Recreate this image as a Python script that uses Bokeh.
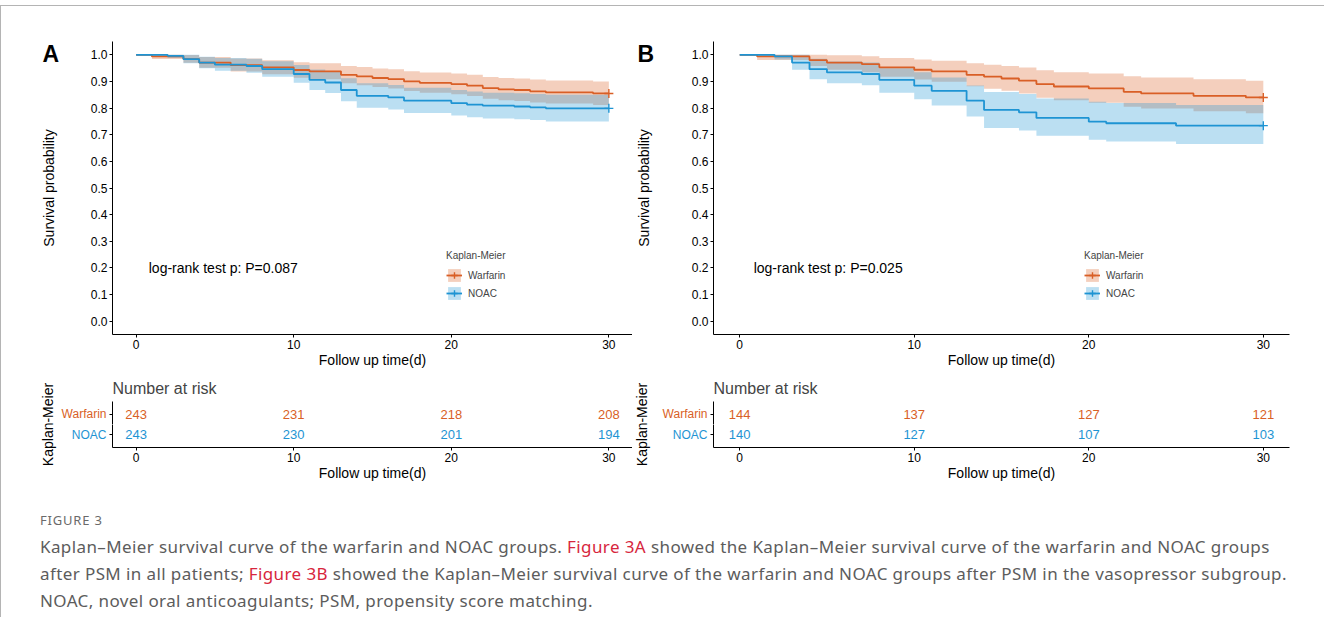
import math
from bokeh.plotting import figure
from bokeh.models import Range1d, FixedTicker, Legend, LegendItem, Div
from bokeh.layouts import column, row
from bokeh.embed import file_html
from bokeh.resources import INLINE
from bokeh.core.properties import value

FONT = "Liberation Sans"
ORANGE = "#D95F26"
BLUE = "#1E94D3"

time_ticks = [0, 10, 20, 30]
surv_ticks = [0.0, 0.1, 0.2, 0.3, 0.4, 0.5, 0.6, 0.7, 0.8, 0.9, 1.0]
surv_tick_labels = ["0.0", "0.1", "0.2", "0.3", "0.4", "0.5", "0.6", "0.7", "0.8", "0.9", "1.0"]
groups = ["Warfarin", "NOAC"]

# ---------------- Panel A (all patients after PSM) ----------------
a_warf_t = [0, 1, 3, 4, 6, 8, 10, 11, 13, 14, 15, 16, 17, 18, 20, 21, 22, 23, 24, 25, 26, 29, 30]
a_warf_s = [1.0, 0.994, 0.984, 0.971, 0.961, 0.953, 0.943, 0.938, 0.925, 0.919, 0.913, 0.909, 0.900,
            0.895, 0.890, 0.884, 0.875, 0.870, 0.868, 0.863, 0.859, 0.855, 0.855]
a_warf_hi = [1.0, 1.0, 0.999, 0.992, 0.986, 0.980, 0.972, 0.968, 0.958, 0.954, 0.949, 0.946, 0.938,
             0.934, 0.930, 0.925, 0.917, 0.913, 0.911, 0.907, 0.904, 0.900, 0.900]
a_warf_lo = [1.0, 0.984, 0.970, 0.951, 0.937, 0.927, 0.914, 0.908, 0.893, 0.886, 0.879, 0.874, 0.864,
             0.858, 0.852, 0.845, 0.835, 0.829, 0.827, 0.821, 0.817, 0.812, 0.812]

a_noac_t = [0, 2, 3, 4, 5, 7, 8, 10, 11, 12, 13, 14, 16, 17, 20, 21, 22, 24, 25, 26, 30]
a_noac_s = [1.0, 0.996, 0.984, 0.971, 0.963, 0.958, 0.946, 0.928, 0.906, 0.896, 0.868, 0.846, 0.840,
            0.828, 0.819, 0.813, 0.809, 0.806, 0.803, 0.799, 0.799]
a_noac_hi = [1.0, 1.0, 1.0, 0.993, 0.988, 0.985, 0.976, 0.962, 0.945, 0.936, 0.912, 0.893, 0.887,
             0.876, 0.868, 0.862, 0.858, 0.856, 0.853, 0.850, 0.850]
a_noac_lo = [1.0, 0.988, 0.968, 0.950, 0.940, 0.933, 0.918, 0.895, 0.868, 0.857, 0.826, 0.801, 0.795,
             0.782, 0.772, 0.766, 0.761, 0.758, 0.755, 0.750, 0.750]

a_risk_warf = [243, 231, 218, 208]
a_risk_noac = [243, 230, 201, 194]
a_pval = "log-rank test p: P=0.087"

# ---------------- Panel B (vasopressor subgroup after PSM) ----------------
b_warf_t = [0, 1, 4, 5, 7, 8, 10, 11, 13, 14, 15, 16, 17, 18, 20, 22, 23, 26, 29, 30]
b_warf_s = [1.0, 0.994, 0.980, 0.971, 0.965, 0.953, 0.944, 0.938, 0.925, 0.918, 0.911, 0.903, 0.890,
            0.881, 0.874, 0.861, 0.855, 0.846, 0.840, 0.840]
b_warf_hi = [1.0, 1.0, 1.0, 0.998, 0.995, 0.988, 0.982, 0.978, 0.968, 0.963, 0.958, 0.952, 0.942,
             0.935, 0.930, 0.920, 0.915, 0.908, 0.903, 0.903]
b_warf_lo = [1.0, 0.981, 0.958, 0.944, 0.935, 0.918, 0.907, 0.899, 0.882, 0.873, 0.865, 0.855, 0.839,
             0.829, 0.820, 0.805, 0.798, 0.788, 0.781, 0.781]

b_noac_t = [0, 2, 3, 4, 5, 7, 8, 10, 11, 13, 14, 16, 17, 20, 21, 25, 30]
b_noac_s = [1.0, 0.994, 0.971, 0.946, 0.934, 0.928, 0.906, 0.884, 0.865, 0.828, 0.793, 0.784, 0.763,
            0.749, 0.743, 0.734, 0.734]
b_noac_hi = [1.0, 1.0, 1.0, 0.985, 0.975, 0.971, 0.950, 0.935, 0.915, 0.885, 0.860, 0.853, 0.836,
             0.824, 0.819, 0.812, 0.812]
b_noac_lo = [1.0, 0.982, 0.944, 0.908, 0.893, 0.886, 0.858, 0.833, 0.810, 0.768, 0.725, 0.716, 0.696,
             0.681, 0.675, 0.665, 0.665]

b_risk_warf = [144, 137, 127, 121]
b_risk_noac = [140, 127, 107, 103]
b_pval = "log-rank test p: P=0.025"

X0, X1 = -1.5, 31.5
TOP_H = 371                       # height of the survival-curve row
TOP_B, FRAME_H = 41, 293          # top border and frame height of the curve plots
BOT_B = TOP_H - TOP_B - FRAME_H   # bottom border of the curve plots
ROW1_H, ROW2_H = 53, 66           # heights of the two risk-table rows


def base_axes(p):
    p.xgrid.visible = False
    p.ygrid.visible = False
    p.outline_line_color = None
    p.background_fill_color = "white"
    p.border_fill_color = "white"
    for ax in list(p.xaxis) + list(p.yaxis):
        ax.axis_line_color = "black"
        ax.axis_line_width = 1
        ax.major_tick_line_color = "black"
        ax.major_tick_line_width = 1
        ax.major_tick_out = 3
        ax.major_tick_in = 0
        ax.minor_tick_line_color = None
        ax.major_label_text_font = FONT
        ax.major_label_text_font_size = "12px"
        ax.major_label_text_color = "black"
        ax.major_label_standoff = 2
        ax.axis_label_text_font = FONT
        ax.axis_label_text_font_size = "14px"
        ax.axis_label_text_font_style = "normal"
        ax.axis_label_text_color = "black"
        ax.axis_label_standoff = 0
    for ax in p.xaxis:
        ax.ticker = FixedTicker(ticks=time_ticks)
        ax.axis_label = "Follow up time(d)"


def gutter(width, height, border_top, border_bottom, texts):
    """Narrow strip left of an axis that holds the panel letter / rotated titles.
    Text positions are given in pixels from the top of the strip."""
    fh = height - border_top - border_bottom
    g = figure(width=width, height=height, x_range=Range1d(0, width), y_range=Range1d(0, fh),
               min_border_left=0, min_border_right=0,
               min_border_top=border_top, min_border_bottom=border_bottom,
               x_axis_location=None, y_axis_location=None, title=None,
               output_backend="svg", toolbar_location=None)
    g.outline_line_color = None
    g.background_fill_color = "white"
    g.border_fill_color = "white"
    g.grid.visible = False
    for txt, x, y_from_top, size, style, rot, align in texts:
        g.text(x=[x], y=[height - border_bottom - y_from_top], text=[txt], angle=rot,
               text_font=value(FONT), text_font_size=size, text_font_style=style,
               text_align=align, text_baseline="middle", text_color="black")
    return g


def km_figure(curves, pval, border_left, frame_w, border_right, legend_dx):
    p = figure(width=border_left + frame_w + border_right, height=TOP_H,
               x_range=Range1d(X0, X1), y_range=Range1d(-0.05, 1.05),
               min_border_left=border_left, min_border_right=border_right,
               min_border_top=TOP_B, min_border_bottom=BOT_B, title=None,
               output_backend="svg", toolbar_location=None)
    base_axes(p)
    p.yaxis.ticker = FixedTicker(ticks=surv_ticks)
    p.yaxis.major_label_overrides = {t: l for t, l in zip(surv_ticks, surv_tick_labels)}

    bands = []
    for name, color, t, s, lo, hi in curves:
        bands.append(p.varea_step(x=t, y1=lo, y2=hi, step_mode="after",
                                  fill_color=color, fill_alpha=0.3))
    items = []
    for (name, color, t, s, lo, hi), b in zip(curves, bands):
        ln = p.step(x=t, y=s, mode="after", line_color=color, line_width=1.8)
        cr = p.scatter(x=[t[-1]], y=[s[-1]], marker="cross", size=9,
                       line_color=color, line_width=1.4)
        items.append(LegendItem(label=name, renderers=[b, ln, cr]))

    p.text(x=[0.8], y=[0.2], text=[pval], text_font=value(FONT), text_font_size="14px",
           text_align="left", text_baseline="middle", text_color="black")

    leg = Legend(items=items, location=(legend_dx, 33), title="Kaplan-Meier",
                 title_text_font=FONT, title_text_font_size="10px", title_text_font_style="normal",
                 label_text_font=FONT, label_text_font_size="10px",
                 glyph_width=16, glyph_height=16, label_height=16, spacing=2,
                 padding=0, margin=0, label_standoff=6, title_standoff=6,
                 border_line_alpha=0, background_fill_alpha=0)
    p.add_layout(leg)
    return p


def risk_row(counts, tick, label, color, border_left, frame_w, border_right, first):
    common = dict(width=border_left + frame_w + border_right,
                  x_range=Range1d(X0, X1),
                  min_border_left=border_left, min_border_right=border_right,
                  output_backend="svg", toolbar_location=None)
    if first:
        p = figure(height=ROW1_H, y_range=Range1d(1.5, 2.6), min_border_top=ROW1_H - 23,
                   min_border_bottom=0, x_axis_location=None, **common)
    else:
        p = figure(height=ROW2_H, y_range=Range1d(0.4, 1.5), min_border_top=0,
                   min_border_bottom=ROW2_H - 23, title=None, **common)
    base_axes(p)
    if first:
        p.title.text = "Number at risk"
        p.title.text_font = FONT
        p.title.text_font_size = "16px"
        p.title.text_font_style = "normal"
        p.title.align = "left"
        p.title.offset = 0
        p.title.standoff = 10
    p.yaxis.ticker = FixedTicker(ticks=[tick])
    p.yaxis.major_label_overrides = {tick: label}
    p.yaxis.major_label_text_color = color
    p.yaxis.major_label_standoff = 3
    p.text(x=time_ticks, y=[tick] * len(time_ticks), text=[str(n) for n in counts],
           text_font=value(FONT), text_font_size="13px", text_align="center",
           text_baseline="middle", text_color=color)
    return p


curves_a = [("Warfarin", ORANGE, a_warf_t, a_warf_s, a_warf_lo, a_warf_hi),
            ("NOAC", BLUE, a_noac_t, a_noac_s, a_noac_lo, a_noac_hi)]
curves_b = [("Warfarin", ORANGE, b_warf_t, b_warf_s, b_warf_lo, b_warf_hi),
            ("NOAC", BLUE, b_noac_t, b_noac_s, b_noac_lo, b_noac_hi)]

# ---- survival curves row: gutter A | plot A | gutter B | plot B ----
YMID = TOP_B + FRAME_H / 2.0
ga = gutter(80, TOP_H, TOP_B, BOT_B,
            [("A", 42, 53, "23px", "bold", 0, "left"),
             ("Survival probability", 48, YMID, "14px", "normal", math.pi / 2, "center")])
pa = km_figure(curves_a, a_pval, 32, 520, 0, 334)
gb = gutter(28, TOP_H, TOP_B, BOT_B,
            [("B", 5, 53, "23px", "bold", 0, "left"),
             ("Survival probability", 11, YMID, "14px", "normal", math.pi / 2, "center")])
pb = km_figure(curves_b, b_pval, 53, 576, 37, 371)

# ---- risk table row ----
TAB_H = ROW1_H + ROW2_H
KM_Y = ROW1_H  # vertical centre of the two-row table, measured from the strip top
gta = gutter(57, TAB_H, 0, 0, [("Kaplan-Meier", 47, KM_Y, "14px", "normal", math.pi / 2, "center")])
ta1 = risk_row(a_risk_warf, 2, groups[0], ORANGE, 55, 520, 0, True)
ta2 = risk_row(a_risk_noac, 1, groups[1], BLUE, 55, 520, 0, False)
gtb = gutter(20, TAB_H, 0, 0, [("Kaplan-Meier", 9, KM_Y, "14px", "normal", math.pi / 2, "center")])
tb1 = risk_row(b_risk_warf, 2, groups[0], ORANGE, 61, 576, 37, True)
tb2 = risk_row(b_risk_noac, 1, groups[1], BLUE, 61, 576, 37, False)

RED = "#D7263D"
caption_html = (
    '<div style="position:relative;width:1326px;height:130px;font-family:\'Noto Sans\',sans-serif;color:#5c5c5c;">'
    # thin frame of the figure box (top and left edges)
    '<div style="position:absolute;left:-5px;top:-490px;width:1324px;height:612px;'
    'border-top:1px solid #b4b4b4;border-left:1px solid #b4b4b4;pointer-events:none;"></div>'
    '<div style="position:absolute;left:35px;top:17px;font-size:13px;letter-spacing:0.8px;line-height:16px;color:#6a6a6a;">FIGURE 3</div>'
    '<div style="position:absolute;left:35px;top:38px;font-size:17px;letter-spacing:0.4px;line-height:27px;white-space:nowrap;">'
    'Kaplan\u2013Meier survival curve of the warfarin and NOAC groups. '
    '<span style="color:' + RED + ';">Figure 3A</span> showed the Kaplan\u2013Meier survival curve of the warfarin and NOAC groups<br>'
    'after PSM in all patients; <span style="color:' + RED + ';">Figure 3B</span> showed the Kaplan\u2013Meier survival curve '
    'of the warfarin and NOAC groups after PSM in the vasopressor subgroup.<br>'
    'NOAC, novel oral anticoagulants; PSM, propensity score matching.'
    '</div></div>'
)
caption = Div(text=caption_html, width=1326, height=130)

layout = column(row(ga, pa, gb, pb),
                row(gta, column(ta1, ta2), gtb, column(tb1, tb2)),
                caption)

open("out.html", "w").write(file_html(layout, INLINE))
